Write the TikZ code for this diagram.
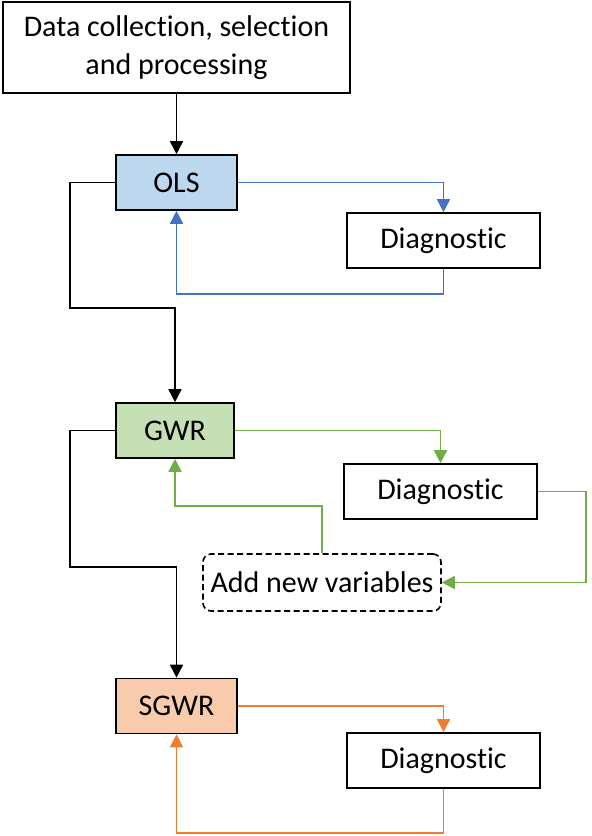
\documentclass[tikz,border=0pt]{standalone}
\usepackage{fontspec}
\setmainfont{Carlito}[Ligatures=NoCommon]
\usetikzlibrary{arrows.meta}
\definecolor{olsfill}{HTML}{BDD7EE}
\definecolor{gwrfill}{HTML}{C5E0B4}
\definecolor{sgwrfill}{HTML}{F8CBAD}
\definecolor{blueln}{HTML}{4472C4}
\definecolor{greenln}{HTML}{70AD47}
\definecolor{orangeln}{HTML}{ED7D31}
\tikzset{
  box/.style={draw=black, line width=1.6pt, inner sep=0pt, align=center,
    font=\fontsize{30}{38}\selectfont},
  conn/.style={line width=1.6pt, -{Triangle[length=13pt,width=13pt]}},
}
\begin{document}
\begin{tikzpicture}[x=1pt,y=-1pt]
\useasboundingbox (0,0) rectangle (592,836);
\fill[white] (0,0) rectangle (592,836);

\node[box, minimum width=347pt, minimum height=91pt] (top) at (176.5,47.5)
  {Data collection, selection\\and processing};
\node[box, fill=olsfill, minimum width=121pt, minimum height=55pt] (ols) at (176.5,182.5) {OLS};
\node[box, minimum width=193pt, minimum height=55pt] (d1) at (443.5,240.5) {Diagnostic};
\node[box, fill=gwrfill, minimum width=118pt, minimum height=55pt] (gwr) at (175,430.5) {GWR};
\node[box, minimum width=193pt, minimum height=55pt] (d2) at (440.5,491.5) {Diagnostic};
\node[box, dash pattern=on 6pt off 3.5pt, rounded corners=8pt, minimum width=238pt, minimum height=57pt] (add) at (322,582.5) {Add new variables};
\node[box, fill=sgwrfill, minimum width=121pt, minimum height=55pt] (sgwr) at (176.5,706) {SGWR};
\node[box, minimum width=193pt, minimum height=55pt] (d3) at (443.5,760.5) {Diagnostic};

% black
\draw[conn, black] (top.south) -- (ols.north);
\draw[conn, black] (ols.west) -| (70,308) -| (gwr.north);
\draw[conn, black] (gwr.west) -| (70,567) -| (sgwr.north);

% blue
\draw[conn, blueln] (ols.east) -| (d1.north);
\draw[conn, blueln] (d1.south) -- ++(0,25) -| (ols.south);

% green
\draw[conn, greenln] (gwr.east) -| (d2.north);
\draw[conn, greenln] (d2.east) -- ++(48,0) |- (add.east);
\draw[conn, greenln] (add.north) -- ++(0,-47) -| (gwr.south);

% orange
\draw[conn, orangeln] (sgwr.east) -| (d3.north);
\draw[conn, orangeln] (d3.south) -- ++(0,44) -| (sgwr.south);
\end{tikzpicture}
\end{document}
